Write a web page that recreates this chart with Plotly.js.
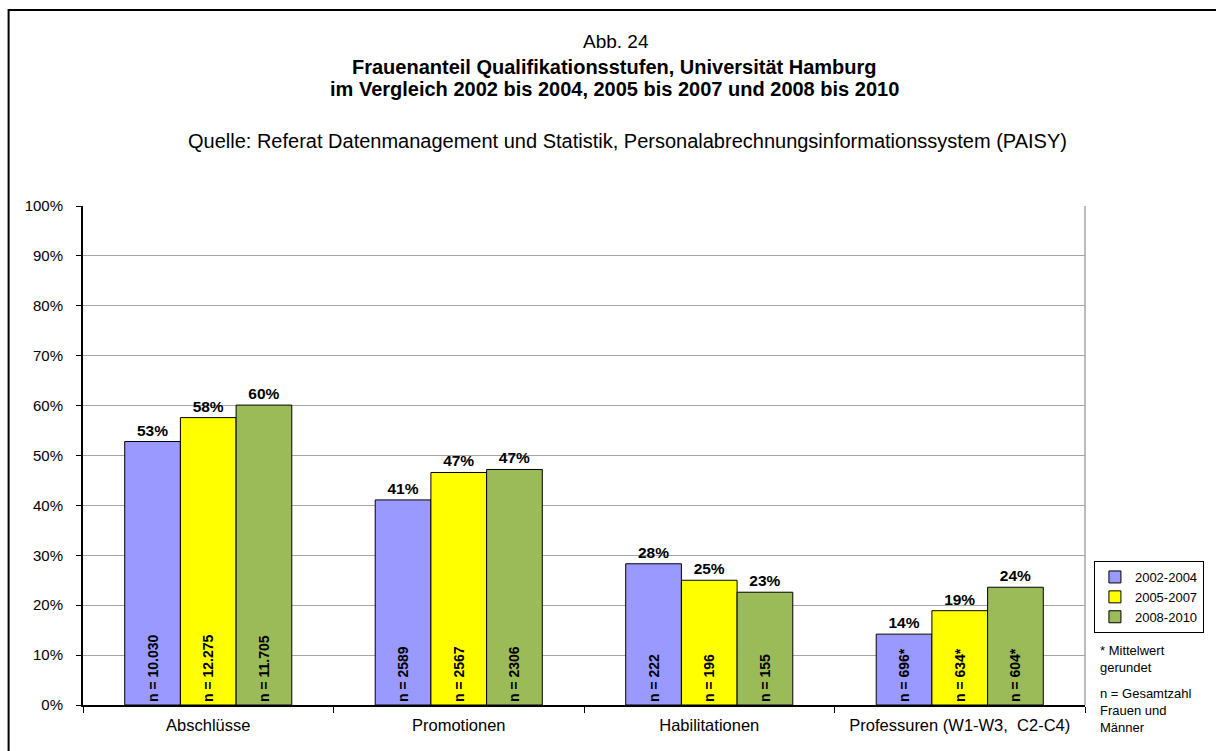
<!DOCTYPE html>
<html>
<head>
<meta charset="utf-8">
<script src="https://cdn.plot.ly/plotly-3.0.1.min.js"></script>
<style>
  html, body { margin: 0; padding: 0; background: #ffffff; }
  #chart { width: 1216px; height: 751px; }
</style>
</head>
<body>
<div id="chart"></div>
<script>
// ---- data ----
const categories = ['Abschlüsse', 'Promotionen', 'Habilitationen', 'Professuren (W1-W3,  C2-C4)'];
const seriesNames = ['2002-2004', '2005-2007', '2008-2010'];
const share2002 = [0.528, 0.411, 0.283, 0.142];
const share2005 = [0.576, 0.466, 0.250, 0.189];
const share2008 = [0.601, 0.472, 0.226, 0.236];
const nLabels2002 = ['n = 10.030', 'n = 2589', 'n = 222', 'n = 696*'];
const nLabels2005 = ['n = 12.275', 'n = 2567', 'n = 196', 'n = 634*'];
const nLabels2008 = ['n = 11.705', 'n = 2306', 'n = 155', 'n = 604*'];
const yTickVals = [0, 0.1, 0.2, 0.3, 0.4, 0.5, 0.6, 0.7, 0.8, 0.9, 1.0];

const seriesValues = [share2002, share2005, share2008];
const seriesNLabels = [nLabels2002, nLabels2005, nLabels2008];
const seriesColors = ['#9999FF', '#FFFF00', '#9BBB59'];

const FONT = 'Arial, "Liberation Sans", sans-serif';

const traces = [];
// main bars with n labels inside
seriesValues.forEach((vals, i) => {
  traces.push({
    type: 'bar',
    name: seriesNames[i],
    x: categories,
    y: vals,
    offsetgroup: 'g' + i,
    marker: { color: seriesColors[i], line: { color: '#000000', width: 1 } },
    text: seriesNLabels[i],
    textposition: 'inside',
    insidetextanchor: 'start',
    textangle: -90,
    constraintext: 'none',
    insidetextfont: { family: FONT, size: 14, color: '#000000', weight: 'bold' },
    hoverinfo: 'skip'
  });
});
// percentage labels above bars (transparent overlay in the same offset group)
seriesValues.forEach((vals, i) => {
  traces.push({
    type: 'bar',
    name: seriesNames[i] + ' label',
    showlegend: false,
    x: categories,
    y: vals,
    offsetgroup: 'g' + i,
    marker: { color: 'rgba(0,0,0,0)', line: { width: 0 } },
    texttemplate: '%{y:.0%}',
    textposition: 'outside',
    textangle: 0,
    constraintext: 'none',
    cliponaxis: false,
    outsidetextfont: { family: FONT, size: 15.5, color: '#000000', weight: 'bold' },
    hoverinfo: 'skip'
  });
});

const L = 83, R = 1093, T = 206, B = 705;
const pw = R - L, ph = B - T;
const px = (x) => (x - L) / pw;
const py = (y) => (B - y) / ph;

const layout = {
  width: 1216,
  height: 751,
  margin: { l: L, r: 1216 - R, t: T, b: 751 - B, pad: 0 },
  paper_bgcolor: '#ffffff',
  plot_bgcolor: '#ffffff',
  font: { family: FONT, color: '#000000', size: 14 },
  barmode: 'group',
  bargap: 0.333,
  bargroupgap: 0,
  showlegend: true,
  xaxis: {
    type: 'category',
    showgrid: false,
    showline: true, linecolor: '#000000', linewidth: 2,
    ticks: 'outside', tickson: 'boundaries', ticklen: 6, tickcolor: '#000000', tickwidth: 1,
    tickfont: { family: FONT, size: 16.5, color: '#000000' },
    ticklabelstandoff: 4,
    zeroline: false,
    fixedrange: true
  },
  yaxis: {
    range: [0, 1],
    tickvals: yTickVals,
    tickformat: '.0%',
    showgrid: true, gridcolor: '#A6A6A6', gridwidth: 1,
    showline: true, linecolor: '#000000', linewidth: 2,
    ticks: 'outside', ticklen: 5, tickcolor: '#000000', tickwidth: 1,
    tickfont: { family: FONT, size: 15, color: '#000000' },
    ticklabelstandoff: 10,
    zeroline: false,
    fixedrange: true
  },
  legend: {
    x: px(1102), xanchor: 'left',
    y: py(561), yanchor: 'top',
    bgcolor: '#ffffff',
    bordercolor: '#000000', borderwidth: 1,
    font: { family: FONT, size: 13, color: '#000000' },
    itemwidth: 30,
    tracegroupgap: 0
  },
  shapes: [
    // outer chart border
    { type: 'rect', xref: 'paper', yref: 'paper', x0: px(8), x1: px(1300), y0: py(800), y1: py(10),
      line: { color: '#000000', width: 2 }, fillcolor: 'rgba(0,0,0,0)', layer: 'below' },
    // plot area right border
    { type: 'line', xref: 'paper', yref: 'paper', x0: 1, x1: 1, y0: 0, y1: 1,
      line: { color: '#A6A6A6', width: 1.5 } }
  ],
  annotations: [
    { text: 'Abb. 24',
      xref: 'paper', yref: 'paper', x: px(620), y: py(41), xanchor: 'center', yanchor: 'middle',
      showarrow: false, font: { family: FONT, size: 19, color: '#000000' } },
    { text: '<b>Frauenanteil Qualifikationsstufen, Universität Hamburg</b>',
      xref: 'paper', yref: 'paper', x: px(619), y: py(67), xanchor: 'center', yanchor: 'middle',
      showarrow: false, font: { family: FONT, size: 20, color: '#000000' } },
    { text: '<b>im Vergleich 2002 bis 2004, 2005 bis 2007 und 2008 bis 2010</b>',
      xref: 'paper', yref: 'paper', x: px(619), y: py(89), xanchor: 'center', yanchor: 'middle',
      showarrow: false, font: { family: FONT, size: 20, color: '#000000' } },
    { text: 'Quelle: Referat Datenmanagement und Statistik, Personalabrechnungsinformationssystem (PAISY)',
      xref: 'paper', yref: 'paper', x: px(632), y: py(141), xanchor: 'center', yanchor: 'middle',
      showarrow: false, font: { family: FONT, size: 20, color: '#000000' } },
    { text: '* Mittelwert<br>gerundet', align: 'left',
      xref: 'paper', yref: 'paper', x: px(1106), y: py(641), xanchor: 'left', yanchor: 'top',
      showarrow: false, font: { family: FONT, size: 13, color: '#000000' } },
    { text: 'n = Gesamtzahl<br>Frauen und<br>Männer', align: 'left',
      xref: 'paper', yref: 'paper', x: px(1106), y: py(684), xanchor: 'left', yanchor: 'top',
      showarrow: false, font: { family: FONT, size: 13, color: '#000000' } }
  ]
};

Plotly.newPlot('chart', traces, layout, { staticPlot: true, displayModeBar: false });
</script>
</body>
</html>
